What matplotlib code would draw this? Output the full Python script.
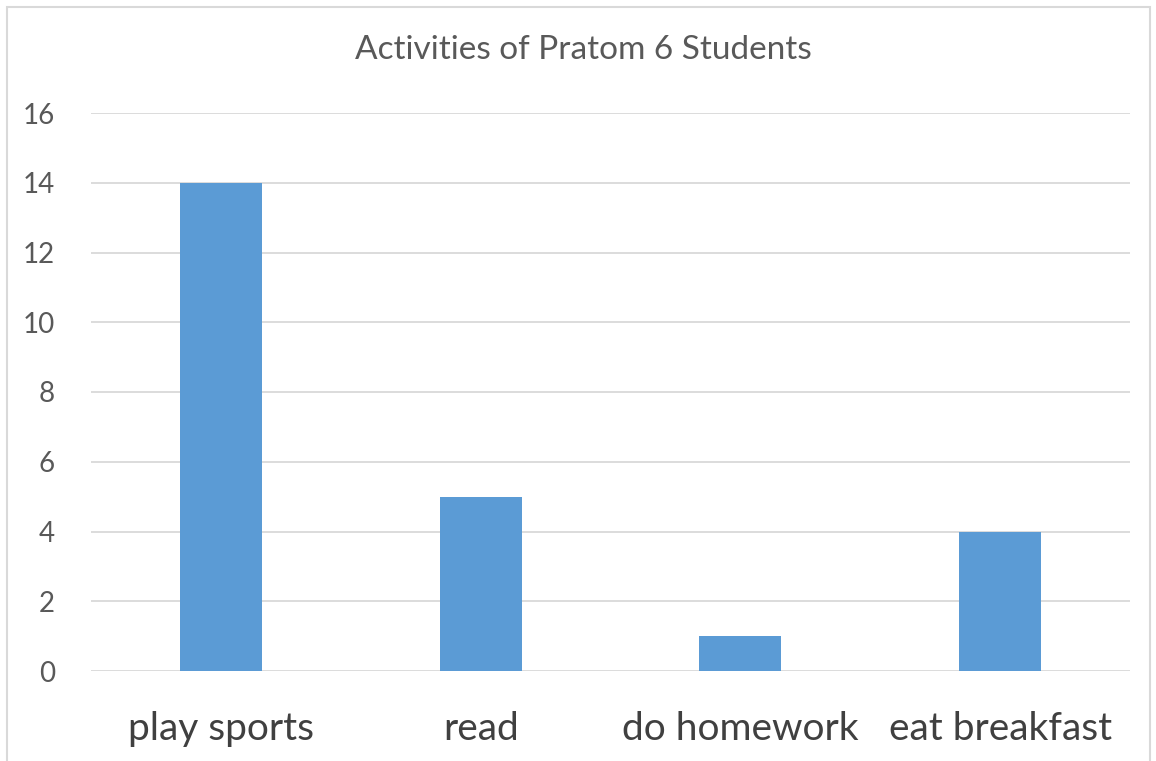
import matplotlib
matplotlib.use("Agg")
import matplotlib.pyplot as plt
from matplotlib.patches import Rectangle

# chart data
activities = ["play sports", "read", "do homework", "eat breakfast"]
students = [14, 5, 1, 4]
yTicks = [0, 2, 4, 6, 8, 10, 12, 14, 16]

plt.rcParams['font.family'] = ['Lato', 'DejaVu Sans']

fig = plt.figure(figsize=(11.56, 7.61), dpi=100)
ax = fig.add_axes([91 / 1156, 1 - 671 / 761, (1130 - 91) / 1156, (671 - 113) / 761])

positions = list(range(len(activities)))
ax.bar(positions, students, width=0.315, color="#5B9BD5", zorder=3)

ax.set_xlim(-0.5, len(activities) - 0.5)
ax.set_ylim(0, 16)
ax.set_yticks(yTicks)
ax.set_yticklabels([str(v) for v in yTicks], fontsize=20, color="#595959")
ax.set_xticks(positions)
ax.set_xticklabels(activities, fontsize=28, color="#404040")
ax.tick_params(axis="y", length=0, pad=26)
ax.tick_params(axis="x", length=0, pad=29)
ax.grid(axis="y", color="#D9D9D9", linewidth=1.3, zorder=0)
for s in ax.spines.values():
    s.set_visible(False)

fig.text(583 / 1156, 1 - 50 / 761, "Activities of Pratom 6 Students",
         ha="center", va="center", fontsize=24, color="#595959")

# outer chart border
fig.patches.append(Rectangle((7 / 1156, -0.05), (1150 - 7) / 1156, 1.05 - 7 / 761,
                             transform=fig.transFigure, fill=False,
                             edgecolor="#D9D9D9", linewidth=1.5))

fig.savefig("out.png", dpi=100)
